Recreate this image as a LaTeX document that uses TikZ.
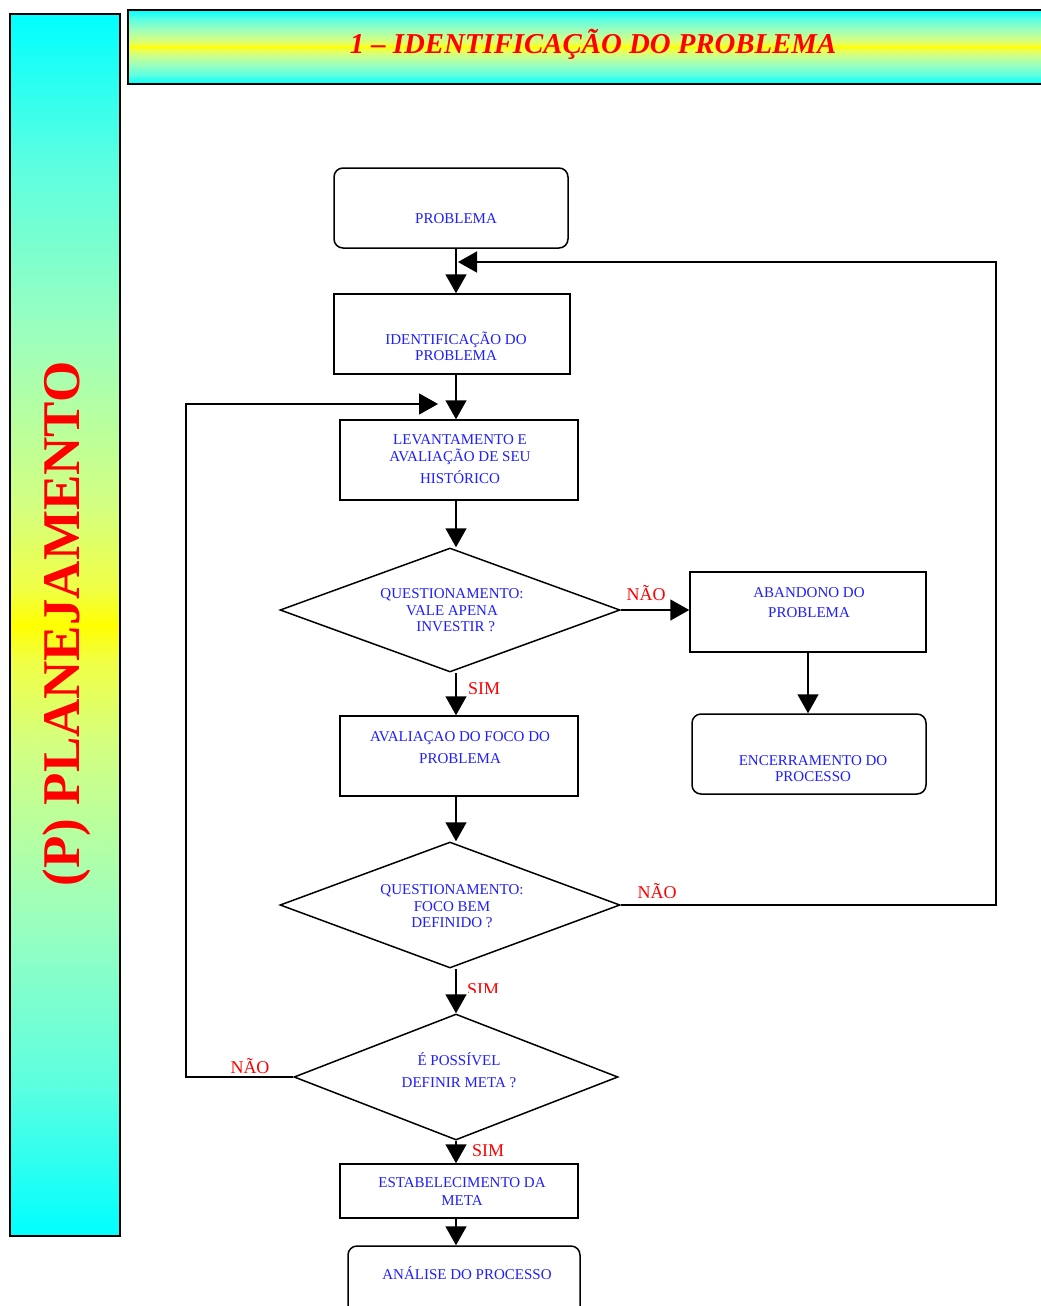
\documentclass[tikz,border=0pt]{standalone}
\usepackage{fontspec}
\setmainfont{Liberation Serif}
\usetikzlibrary{shapes.geometric,arrows.meta}
\definecolor{tblue}{RGB}{30,30,255}
\definecolor{tred}{RGB}{255,0,0}
\definecolor{gc1}{RGB}{90,255,225}
\definecolor{gc2}{RGB}{155,255,190}
\definecolor{gc3}{RGB}{210,255,130}
\definecolor{gc4}{RGB}{240,255,70}
\pgfdeclareverticalshading{cyy}{100bp}{color(0bp)=(cyan); color(25bp)=(cyan); color(31bp)=(gc1); color(38bp)=(gc2); color(45bp)=(gc3); color(48.5bp)=(gc4); color(50bp)=(yellow); color(51.5bp)=(gc4); color(55bp)=(gc3); color(62bp)=(gc2); color(69bp)=(gc1); color(75bp)=(cyan); color(100bp)=(cyan)}
\begin{document}
\begin{tikzpicture}[x=1pt,y=-1pt,
  box/.style={draw,line width=1.5pt,inner sep=0pt},
  rbox/.style={box,rounded corners=9pt},
  dia/.style={diamond,draw,line width=1.5pt,inner sep=0pt},
  txt/.style={text=tblue,align=center,inner sep=0pt,font=\fontsize{15}{16}\selectfont},
  lbl/.style={text=tred,inner sep=0pt,anchor=base,font=\fontsize{18}{20}\selectfont},
  conn/.style={line width=1.6pt},
  arr/.style={conn,-{Triangle[width=21pt,length=19pt]}}]
\useasboundingbox (0,0) rectangle (1041,1306);
\fill[white] (0,0) rectangle (1041,1306);

% side bar
\shade[shading=cyy] (10,14) rectangle (120,1236);
\draw[line width=2.5pt] (10,14) rectangle (120,1236);
\node[rotate=90,text=tred,inner sep=0pt,font=\fontsize{53}{55}\selectfont\bfseries] (side) at (67,624) {(P) PLANEJAMENTO};

% title bar
\shade[shading=cyy] (128,10) rectangle (1050,84);
\draw[line width=2.5pt] (1050,10) -- (128,10) -- (128,84) -- (1050,84);
\node[text=tred,inner sep=0pt,font=\fontsize{28.8}{30}\selectfont\bfseries\itshape] (title) at (593,44) {1 – IDENTIFICAÇÃO DO PROBLEMA};

\coordinate (vx) at (456,0);

% shapes
\node[rbox,minimum width=234,minimum height=80] (prob) at (451,208) {};
\node[box,minimum width=236,minimum height=80] (ident) at (452,334) {};
\node[box,minimum width=238,minimum height=80] (lev) at (459,460) {};
\node[dia,minimum width=340,minimum height=124] (d1) at (450,610) {};
\node[box,minimum width=236,minimum height=80] (aband) at (808,612) {};
\node[rbox,minimum width=234,minimum height=80] (encerr) at (809,754) {};
\node[box,minimum width=238,minimum height=80] (aval) at (459,756) {};
\node[dia,minimum width=340,minimum height=126] (d2) at (450,905) {};
\node[dia,minimum width=324,minimum height=126] (d3) at (456,1077) {};
\node[box,minimum width=238,minimum height=54] (estab) at (459,1191) {};
\node[rbox,minimum width=232,minimum height=74] (anal) at (464,1283) {};

% texts
\node[txt] (tprob) at (456,219) {PROBLEMA};
\node[txt] (tident) at (456,346) {IDENTIFICAÇÃO DO\\PROBLEMA};
\node[txt] (tlev) at (460,459) {LEVANTAMENTO E\\[1pt]AVALIAÇÃO DE SEU\\[5pt]HISTÓRICO};
\node[txt] (td1) at (452,610.5) {QUESTIONAMENTO:\\[1pt]VALE APENA\\\ \ INVESTIR ?};
\node[txt] (taband) at (809,603) {ABANDONO DO\\[4pt]PROBLEMA};
\node[txt] (tencerr) at (813,769) {ENCERRAMENTO DO\\PROCESSO};
\node[txt] (taval) at (460,748) {AVALIAÇAO DO FOCO DO\\[6pt]PROBLEMA};
\node[txt] (td2) at (452,906) {QUESTIONAMENTO:\\[1pt]FOCO BEM\\DEFINIDO ?};
\node[txt] (td3) at (459,1070.5) {É POSSÍVEL\\[6pt]DEFINIR META ?};
\node[txt] (testab) at (462,1192) {ESTABELECIMENTO DA\\[2pt]META};
\node[txt] (tanal) at (467,1273) {ANÁLISE DO PROCESSO};

% labels
\node[lbl] (l1) at (646,600) {NÃO};
\node[lbl] (l2) at (484,694) {SIM};
\node[lbl] (l3) at (657,898) {NÃO};
\begin{scope}
\clip (440,970) rectangle (530,992);
\node[lbl] (l4) at (483,995) {SIM};
\end{scope}
\node[lbl] (l5) at (250,1073) {NÃO};
\node[lbl] (l6) at (488,1156) {SIM};

% connectors
\draw[arr] (prob.south -| vx) -- (ident.north -| vx);
\draw[arr] (ident.south -| vx) -- (lev.north -| vx);
\draw[arr] (lev.south -| vx) -- (d1.north -| vx);
\draw[arr] (d1.south -| vx) -- (aval.north -| vx);
\draw[arr] (d1.east) -- (d1.east -| aband.west);
\draw[arr] (aband.south) -- (encerr.north -| aband.south);
\draw[arr] (aval.south -| vx) -- (d2.north -| vx);
\draw[arr] (d2.south -| vx) -- (d3.north -| vx);
\draw[arr] (d3.south) -- (estab.north -| d3.south);
\draw[arr] (estab.south -| vx) -- (anal.north -| vx);

\coordinate (rc) at (996,262);
\coordinate (tipR) at (458,262);
\draw[arr] (d2.east) -| (rc) -- (tipR);
\coordinate (lc) at (186,404);
\coordinate (tipL) at (438,404);
\draw[arr] (d3.west) -| (lc) -- (tipL);
\end{tikzpicture}
\end{document}
